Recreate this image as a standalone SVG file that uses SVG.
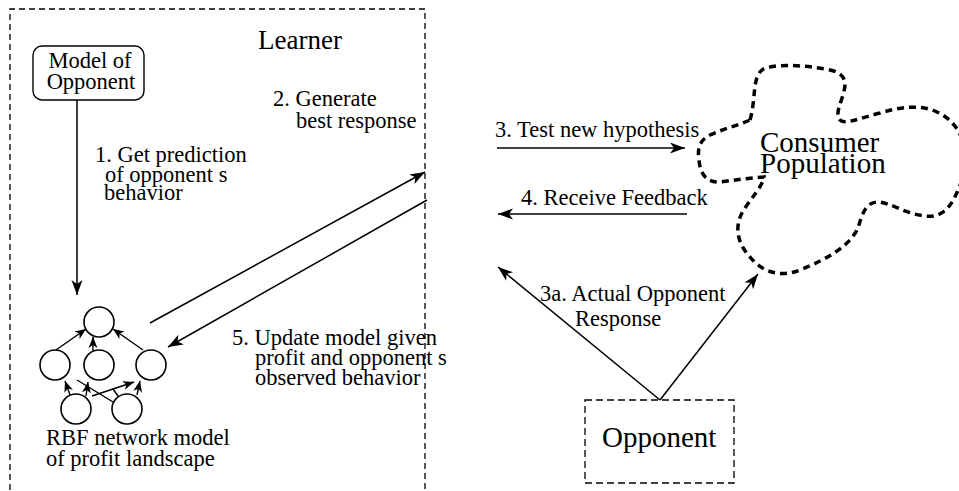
<svg xmlns="http://www.w3.org/2000/svg" width="959" height="491" viewBox="0 0 959 491">
  <style>
    text { font-family: "Liberation Serif", "Times New Roman", serif; fill: #000; }
    .lbl { font-size: 22.5px; }
    .big { font-size: 27px; }
    .huge { font-size: 29px; }
    .frame { fill: none; stroke: #000; stroke-width: 1.3; stroke-dasharray: 6 4; }
    .cloud { fill: none; stroke: #000; stroke-width: 3.5; stroke-dasharray: 7 5; }
    .node { fill: #fff; stroke: #000; stroke-width: 1.6; }
    .edge { fill: none; stroke: #000; stroke-width: 1.5; }
    .nedge { fill: none; stroke: #000; stroke-width: 1.4; }
  </style>
  <defs>
    <marker id="ah" viewBox="-16 -6 16 12" refX="0" refY="0" markerWidth="16" markerHeight="12" orient="auto" markerUnits="userSpaceOnUse">
      <path d="M0,0 L-15,-5.5 L-11,0 L-15,5.5 Z" fill="#000"/>
    </marker>
    <marker id="ahs" viewBox="-12 -5 12 10" refX="0" refY="0" markerWidth="12" markerHeight="10" orient="auto" markerUnits="userSpaceOnUse">
      <path d="M0,0 L-11,-4.5 L-8,0 L-11,4.5 Z" fill="#000"/>
    </marker>
  </defs>
  <rect width="959" height="491" fill="#fff"/>

  <!-- Learner frame (open at the bottom) -->
  <g id="learner">
    <path class="frame" d="M10,500 L10,9 L425,9 L425,500"/>
    <text class="big" x="300" y="49" text-anchor="middle">Learner</text>
  </g>

  <g id="model-of-opponent">
    <rect x="33" y="46" width="111" height="54" rx="9" ry="9" fill="#fff" stroke="#000" stroke-width="1.4"/>
    <text class="lbl" x="90" y="68" text-anchor="middle">Model of</text>
    <text class="lbl" x="91" y="89" text-anchor="middle">Opponent</text>
  </g>

  <!-- RBF network -->
  <g id="rbf-network">
    <g id="rbf-edges">
      <line class="nedge" x1="56" y1="350" x2="86" y2="329" marker-end="url(#ahs)"/>
      <line class="nedge" x1="93" y1="351" x2="93" y2="337" marker-end="url(#ahs)"/>
      <line class="nedge" x1="143" y1="350" x2="113" y2="329" marker-end="url(#ahs)"/>
      <line class="nedge" x1="70" y1="395" x2="65" y2="381" marker-end="url(#ahs)"/>
      <line class="nedge" x1="137" y1="395" x2="140" y2="381" marker-end="url(#ahs)"/>
      <line class="nedge" x1="113" y1="402" x2="77" y2="380"/>
      <line class="nedge" x1="86" y1="396" x2="88" y2="382" marker-end="url(#ahs)"/>
      <line class="nedge" x1="92" y1="396" x2="134" y2="382" marker-end="url(#ahs)"/>
      <line class="nedge" x1="118" y1="396" x2="113" y2="389"/>
    </g>
    <circle class="node" cx="99" cy="322" r="15"/>
    <circle class="node" cx="55" cy="365" r="15"/>
    <circle class="node" cx="99" cy="365" r="15"/>
    <circle class="node" cx="151" cy="365" r="15"/>
    <circle class="node" cx="76" cy="409" r="15"/>
    <circle class="node" cx="127" cy="409" r="15"/>
    <text class="lbl" x="46" y="445">RBF network model</text>
    <text class="lbl" x="46" y="466">of profit landscape</text>
  </g>

  <g id="consumer-population">
    <path class="cloud" d="M750,120 C756,100 752,78 762,70 C770,64 800,64 830,70 C848,74 846,85 843,95 C840,105 835,115 840,120 C845,125 860,118 880,113 C900,107 920,104 937,112 C966,125 972,160 958,190 C950,210 940,218 925,216 C905,214 890,202 877,202 C865,203 862,215 858,228 C850,245 830,258 800,270 C780,278 762,272 750,257 C737,243 733,225 745,208 C753,196 763,185 764,177 C750,178 735,180 720,182 C705,183 700,172 699,160 C697,148 700,140 710,135 C725,128 740,125 750,120 Z"/>
    <text class="huge" x="760" y="152">Consumer</text>
    <text class="huge" x="760" y="173">Population</text>
  </g>

  <g id="opponent">
    <rect x="585" y="400" width="149" height="83" fill="none" stroke="#000" stroke-width="1.3" stroke-dasharray="7 4"/>
    <text class="huge" x="602" y="447">Opponent</text>
  </g>

  <!-- Connectors -->
  <g id="connectors">
    <line class="edge" x1="77" y1="100" x2="77" y2="295" marker-end="url(#ah)"/>
    <line class="edge" x1="150" y1="323" x2="425" y2="172" marker-end="url(#ah)"/>
    <line class="edge" x1="427" y1="200" x2="168" y2="347" marker-end="url(#ah)"/>
    <line class="edge" x1="497" y1="148" x2="685" y2="148" marker-end="url(#ah)"/>
    <line class="edge" x1="687" y1="214" x2="498" y2="214" marker-end="url(#ah)"/>
    <line class="edge" x1="660" y1="400" x2="498" y2="267" marker-end="url(#ah)"/>
    <line class="edge" x1="660" y1="400" x2="758" y2="274" marker-end="url(#ah)"/>
  </g>

  <!-- Step labels -->
  <g id="labels">
    <text class="lbl" x="95" y="162">1. Get prediction</text>
    <text class="lbl" x="105" y="182">of opponent s</text>
    <text class="lbl" x="104" y="200">behavior</text>
    <text class="lbl" x="273" y="106">2. Generate</text>
    <text class="lbl" x="296" y="128">best response</text>
    <text class="lbl" x="495" y="137">3. Test new hypothesis</text>
    <text class="lbl" x="521" y="205">4. Receive Feedback</text>
    <text class="lbl" x="232" y="345">5. Update model given</text>
    <text class="lbl" x="255" y="365">profit and opponent s</text>
    <text class="lbl" x="255" y="385">observed behavior</text>
    <text class="lbl" x="540" y="301">3a. Actual Opponent</text>
    <text class="lbl" x="575" y="326">Response</text>
  </g>
</svg>
